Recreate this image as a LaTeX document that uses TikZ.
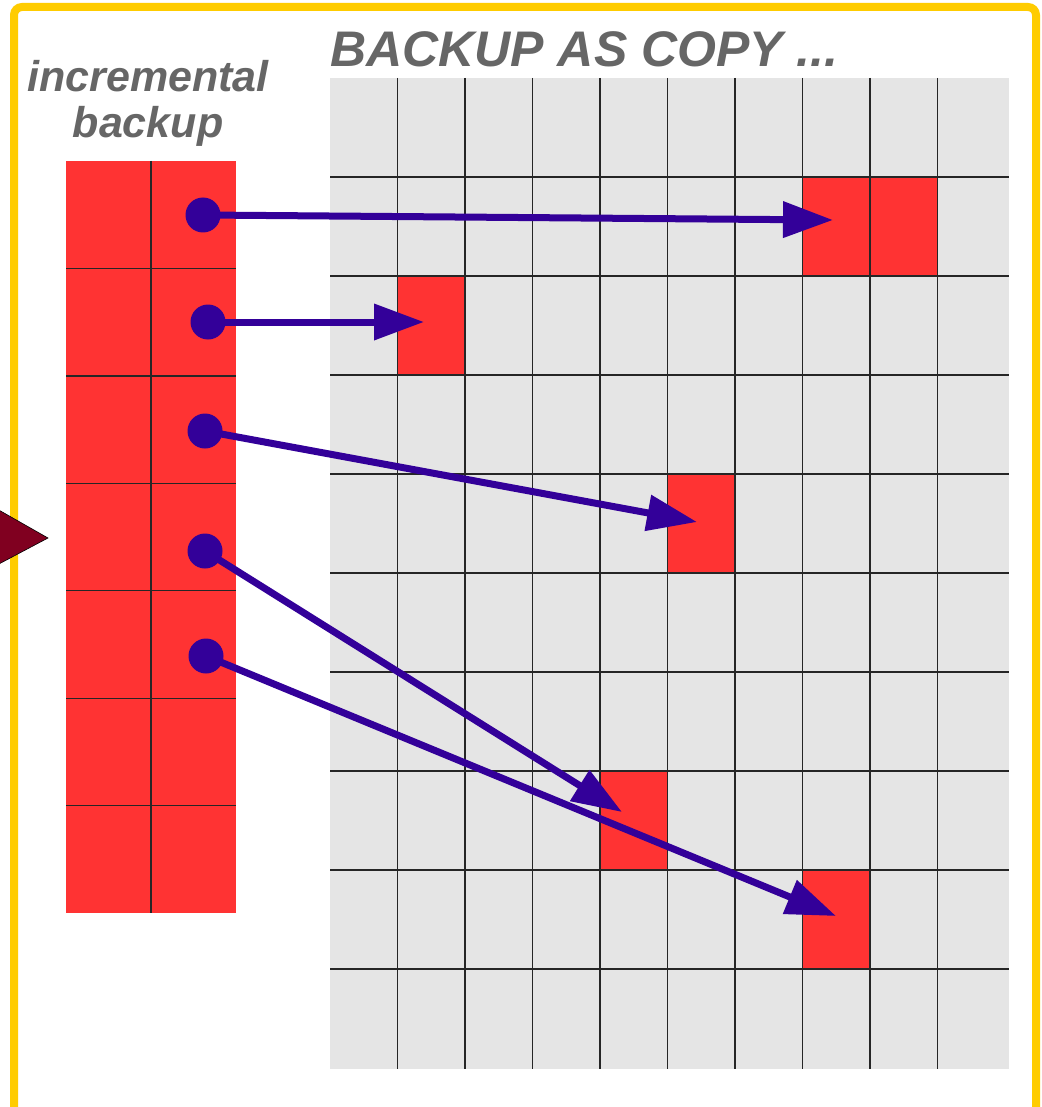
\documentclass[tikz,border=0pt]{standalone}
\usepackage{fontspec}
\setmainfont{Liberation Sans}
\usetikzlibrary{arrows.meta}
\definecolor{frameyellow}{RGB}{255,204,0}
\definecolor{cellred}{RGB}{255,51,51}
\definecolor{gridgray}{RGB}{229,229,229}
\definecolor{arrowblue}{RGB}{51,0,153}
\definecolor{textgray}{RGB}{102,102,102}
\definecolor{darkred}{RGB}{128,0,32}
\tikzset{
  headtext/.style={text=textgray, inner sep=0pt, font=\fontsize{50}{56}\selectfont\bfseries\itshape},
  sidetext/.style={text=textgray, inner sep=0pt, font=\fontsize{43}{48}\selectfont\bfseries\itshape},
  gridline/.style={black!85, line width=1.3pt},
  dot/.style={circle, fill=arrowblue, minimum size=35pt, inner sep=0pt},
  link/.style={arrowblue, line width=7pt, -{Triangle[length=50pt,width=35pt]}},
}
\begin{document}
\begin{tikzpicture}[x=1pt,y=-1pt]
\useasboundingbox (0,0) rectangle (1041,1107);
\clip (0,0) rectangle (1041,1107);
\fill[white] (0,0) rectangle (1041,1107);
% yellow frame
\draw[frameyellow, line width=8pt, rounded corners=8pt] (14,1150) -- (14,7) -- (1036,7) -- (1036,1150);
% titles
\node[headtext, anchor=base west] (ttl) at (330,67) {BACKUP AS COPY ...};
\node[sidetext, anchor=base] (inc) at (148,92) {incremental};
\node[sidetext, anchor=base] (bk) at (148,138) {backup};
% grid
\fill[gridgray] (330,78) rectangle (1009,1069);
\foreach \c/\r in {802.5/177, 870/177, 397.5/276, 667.5/474, 600/771, 802.5/870}
  \fill[cellred] (\c,\r) rectangle ++(67.5,99);
\foreach \x in {397.5,465,532.5,600,667.5,735,802.5,870,937.5}
  \draw[gridline] (\x,78) -- (\x,1069);
\foreach \y in {177,276,375,474,573,672,771,870,969}
  \draw[gridline] (330,\y) -- (1009,\y);
% incremental column
\fill[cellred] (66,161) rectangle (236,913);
\draw[gridline] (151,161) -- (151,913);
\foreach \k in {1,...,6}
  \draw[gridline] (66,{161+107.43*\k}) -- (236,{161+107.43*\k});
% input triangle
\filldraw[fill=darkred, draw=black, line width=0.6pt] (-3,509) -- (48,538) -- (-3,565) -- cycle;
% sources and targets
\node[dot] (d1) at (203,215) {};
\node[dot] (d2) at (208,322) {};
\node[dot] (d3) at (205,431) {};
\node[dot] (d4) at (205,551) {};
\node[dot] (d5) at (206,656) {};
\coordinate (t1) at (833,220);
\coordinate (t2) at (424,322);
\coordinate (t3) at (697,522);
\coordinate (t4) at (622,812);
\coordinate (t5) at (836,916);
\draw[link] (d1.center) -- (t1);
\draw[link] (d2.center) -- (t2);
\draw[link] (d3.center) -- (t3);
\draw[link] (d4.center) -- (t4);
\draw[link] (d5.center) -- (t5);
\end{tikzpicture}
\end{document}
